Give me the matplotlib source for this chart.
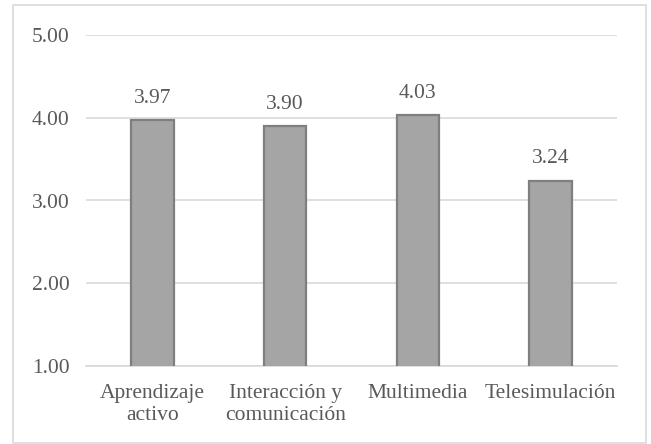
import matplotlib.pyplot as plt
from matplotlib.patches import Rectangle

categories = ["Aprendizaje\nactivo", "Interacción y\ncomunicación", "Multimedia", "Telesimulación"]
values = [3.97, 3.90, 4.03, 3.24]
y_ticks = [1, 2, 3, 4, 5]

text_color = "#595959"
plt.rcParams["font.family"] = ["Liberation Serif", "DejaVu Serif"]
plt.rcParams["font.size"] = 15.5

fig = plt.figure(figsize=(6.51, 4.44), dpi=100)
ax = fig.add_axes([86 / 651, 1 - 366 / 444, 531 / 651, 331 / 444])

x = range(len(categories))
bars = ax.bar(x, values, width=0.32, bottom=0, color="#a5a5a5",
              edgecolor="#7f7f7f", linewidth=1.6, zorder=3)

for xi, v in zip(x, values):
    ax.annotate(f"{v:.2f}", (xi, v), xytext=(0, 9), textcoords="offset points",
                ha="center", va="bottom", color=text_color)

ax.set_ylim(1, 5)
ax.set_xlim(-0.5, len(categories) - 0.5)
ax.set_yticks(y_ticks)
ax.set_yticklabels([f"{t:.2f}" for t in y_ticks])
ax.set_xticks(list(x))
ax.set_xticklabels(categories, linespacing=1.22)
ax.grid(axis="y", color="#d9d9d9", linewidth=1.2, zorder=0)
ax.tick_params(axis="both", length=0, colors=text_color)
ax.tick_params(axis="y", pad=12)
ax.tick_params(axis="x", pad=13)
for s in ["top", "right", "left"]:
    ax.spines[s].set_visible(False)
ax.spines["bottom"].set_color("#d9d9d9")
ax.spines["bottom"].set_linewidth(1.2)

fig.patches.append(Rectangle((13 / 651, 1 - 443 / 444), 633 / 651, 438 / 444,
                             transform=fig.transFigure, fill=False,
                             edgecolor="#d9d9d9", linewidth=1.2))

fig.savefig("out.png", dpi=100)
